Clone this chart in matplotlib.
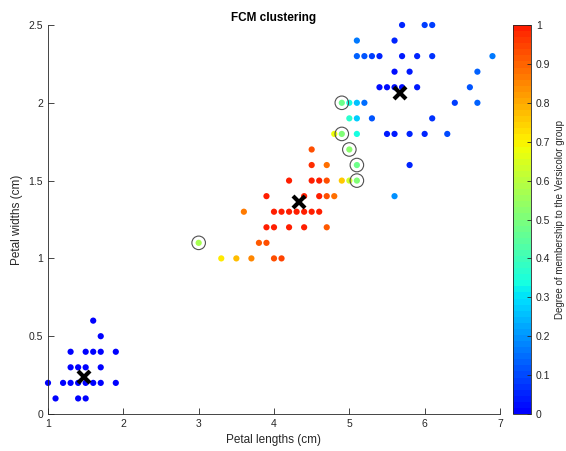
import numpy as np
import matplotlib
matplotlib.use("Agg")
import matplotlib.pyplot as plt
from matplotlib.colors import ListedColormap

plt.rcParams["font.family"] = ["Liberation Sans", "DejaVu Sans"]

# setosa group (all strongly outside the Versicolor group)
setosa_length = [1.6, 1.7, 1.3, 1.5, 1.6, 1.7, 1.9, 1.3, 1.4, 1.5, 1.7,
                 1.0, 1.2, 1.3, 1.4, 1.5, 1.6, 1.7, 1.9, 1.1, 1.4, 1.5]
setosa_width = [0.6, 0.5, 0.4, 0.4, 0.4, 0.4, 0.4, 0.3, 0.3, 0.3, 0.3,
                0.2, 0.2, 0.2, 0.2, 0.2, 0.2, 0.2, 0.2, 0.1, 0.1, 0.1]
setosa_member = [0.01] * len(setosa_length)

# versicolor / virginica points
other_length = [3.3, 3.5, 3.7, 4.0, 4.1,
                3.0, 3.8, 3.9,
                3.9, 4.0, 4.2, 4.4, 4.7,
                3.6, 4.0, 4.1, 4.2, 4.3, 4.4, 4.5, 4.6,
                3.9, 4.4, 4.6, 4.7, 4.8, 5.6,
                4.2, 4.5, 4.6, 4.7, 4.9, 5.0, 5.1,
                4.5, 4.7, 5.1, 5.8,
                4.5, 5.0,
                4.8, 4.9, 5.1, 5.5, 5.6, 5.8, 6.0, 6.3,
                5.0, 5.1, 5.3, 6.1,
                4.9, 5.0, 5.1, 5.2, 6.4, 6.7,
                5.4, 5.5, 5.6, 5.7, 5.9, 6.6,
                5.6, 5.8, 6.7,
                5.1, 5.2, 5.3, 5.4, 5.7, 5.9, 6.1, 6.9,
                5.1, 5.6,
                5.7, 6.0, 6.1]
other_width = [1.0, 1.0, 1.0, 1.0, 1.0,
               1.1, 1.1, 1.1,
               1.2, 1.2, 1.2, 1.2, 1.2,
               1.3, 1.3, 1.3, 1.3, 1.3, 1.3, 1.3, 1.3,
               1.4, 1.4, 1.4, 1.4, 1.4, 1.4,
               1.5, 1.5, 1.5, 1.5, 1.5, 1.5, 1.5,
               1.6, 1.6, 1.6, 1.6,
               1.7, 1.7,
               1.8, 1.8, 1.8, 1.8, 1.8, 1.8, 1.8, 1.8,
               1.9, 1.9, 1.9, 1.9,
               2.0, 2.0, 2.0, 2.0, 2.0, 2.0,
               2.1, 2.1, 2.1, 2.1, 2.1, 2.1,
               2.2, 2.2, 2.2,
               2.3, 2.3, 2.3, 2.3, 2.3, 2.3, 2.3, 2.3,
               2.4, 2.4,
               2.5, 2.5, 2.5]
other_member = [0.71, 0.78, 0.85, 0.93, 0.94,
                0.57, 0.91, 0.93,
                0.99, 0.99, 1.00, 1.00, 0.92,
                0.86, 1.00, 1.00, 1.00, 1.00, 1.00, 1.00, 0.99,
                0.99, 1.00, 0.99, 0.93, 0.89, 0.20,
                0.99, 1.00, 0.99, 0.93, 0.76, 0.64, 0.50,
                0.98, 0.89, 0.48, 0.06,
                0.93, 0.52,
                0.68, 0.50, 0.33, 0.04, 0.04, 0.05, 0.06, 0.10,
                0.36, 0.27, 0.12, 0.07,
                0.47, 0.34, 0.25, 0.15, 0.09, 0.13,
                0.02, 0.02, 0.02, 0.02, 0.04, 0.12,
                0.03, 0.04, 0.14,
                0.13, 0.11, 0.08, 0.06, 0.04, 0.05, 0.07, 0.17,
                0.17, 0.05,
                0.06, 0.08, 0.09]

# ambiguous points (circled)
circled_length = [3.0, 5.1, 5.1, 5.0, 4.9, 4.9]
circled_width = [1.1, 1.5, 1.6, 1.7, 1.8, 2.0]

# cluster centres
center_length = [1.48, 4.33, 5.67]
center_width = [0.24, 1.36, 2.06]

cmap = ListedColormap(plt.cm.jet(np.linspace(0.125, 0.875, 64)))

fig = plt.figure(figsize=(5.66, 4.51), dpi=100)
ax = fig.add_axes([48 / 566, 37 / 451, 452 / 566, 389 / 451])

x = setosa_length + other_length
y = setosa_width + other_width
c = setosa_member + other_member
sc = ax.scatter(x, y, c=c, cmap=cmap, vmin=0, vmax=1, s=20, linewidths=0,
                zorder=2, clip_on=False)
ax.scatter(circled_length, circled_width, s=95, facecolors="none",
           edgecolors="#505050", linewidths=0.8, zorder=3)
ax.plot(center_length, center_width, "kx", markersize=9, mew=3, zorder=4)

ax.set_xlim(1, 7)
ax.set_ylim(0, 2.5)
ax.set_xticks(range(1, 8))
ax.set_yticks([0, 0.5, 1, 1.5, 2, 2.5])
ax.set_yticklabels(["0", "0.5", "1", "1.5", "2", "2.5"])
ax.spines["top"].set_visible(False)
ax.spines["right"].set_visible(False)
for s in ["left", "bottom"]:
    ax.spines[s].set_color("#262626")
    ax.spines[s].set_linewidth(0.6)
ax.tick_params(direction="in", length=4, width=0.6, labelsize=7.5, colors="#262626")
ax.set_xlabel("Petal lengths (cm)", fontsize=8.5, color="#262626", labelpad=4)
ax.set_ylabel("Petal widths (cm)", fontsize=8.5, color="#262626", labelpad=4)
ax.set_title("FCM clustering", fontsize=8.5, fontweight="bold", pad=3)

cax = fig.add_axes([513 / 566, 37 / 451, 18 / 566, 389 / 451])
cb = fig.colorbar(sc, cax=cax, ticks=np.arange(0, 1.01, 0.1))
cb.ax.set_yticklabels(["0", "0.1", "0.2", "0.3", "0.4", "0.5", "0.6", "0.7", "0.8", "0.9", "1"])
cb.ax.tick_params(direction="in", length=3, width=0.6, labelsize=7.5, colors="#262626")
cb.outline.set_edgecolor("#262626")
cb.outline.set_linewidth(0.6)
cb.set_label("Degree of membership to the Versicolor group", fontsize=7, color="#262626", labelpad=3)

fig.savefig("out.png", dpi=100)
